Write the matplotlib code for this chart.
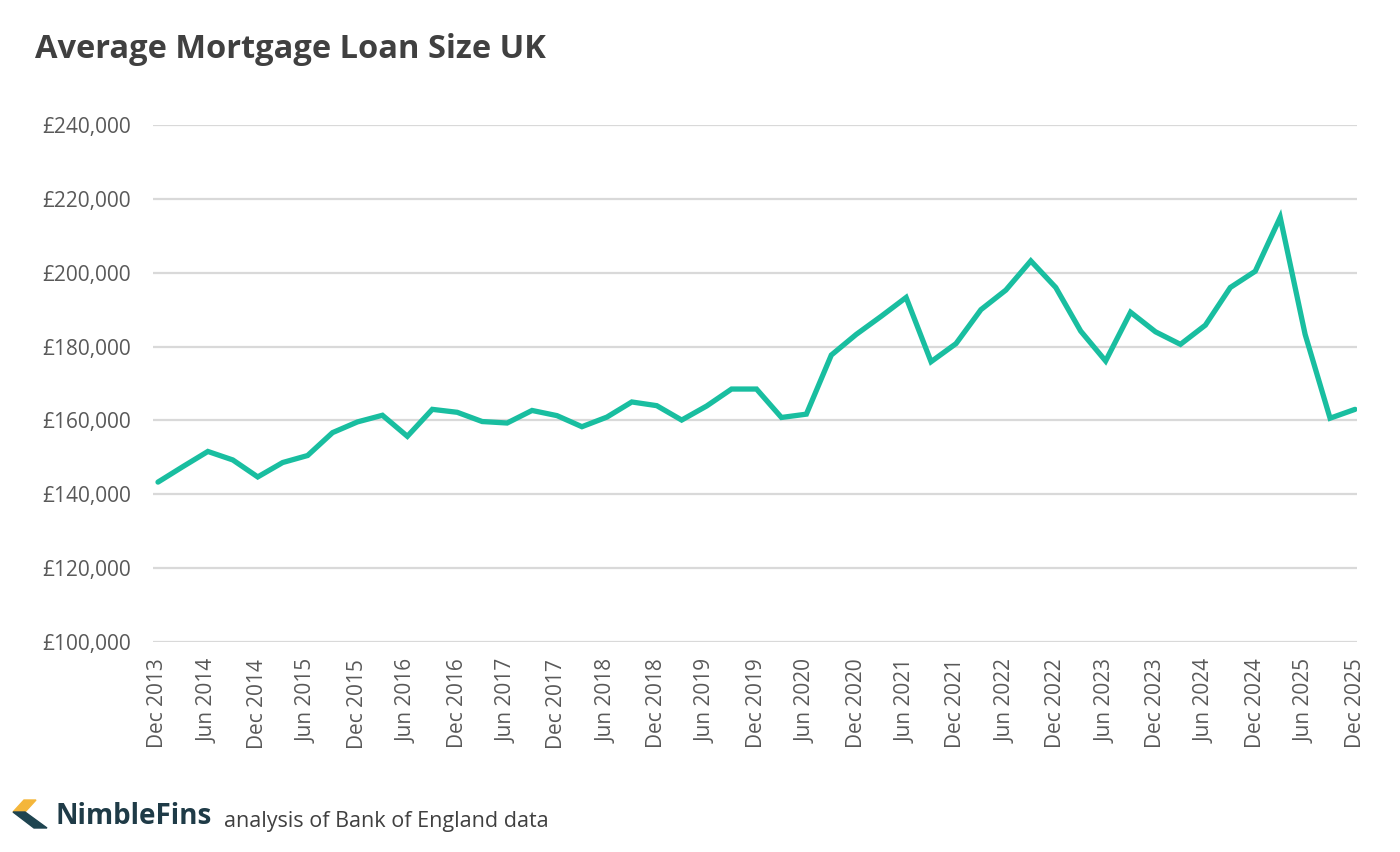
import matplotlib
matplotlib.use("Agg")
import matplotlib.pyplot as plt
from matplotlib.patches import Polygon
from matplotlib.ticker import FuncFormatter

# Average mortgage loan size, quarterly, Dec 2013 .. Dec 2025 (GBP)
quarters = []
for yr in range(2013, 2026):
    for m in ["Mar", "Jun", "Sep", "Dec"]:
        quarters.append(f"{m} {yr}")
quarters = quarters[3:]  # start at Dec 2013

loan_size = [143300, 147500, 151600, 149300, 144700, 148600, 150500, 156700,
             159600, 161400, 155700, 163000, 162200, 159700, 159300, 162700,
             161300, 158300, 160900, 165000, 164000, 160100, 163900, 168500,
             168500, 160800, 161700, 177700, 183300, 188200, 193300, 175900,
             180800, 190000, 195300, 203200, 196000, 184200, 176100, 189300,
             184000, 180600, 185800, 196000, 200400, 215000, 183300, 160600,
             163000]

y_ticks = [100000, 120000, 140000, 160000, 180000, 200000, 220000, 240000]

line_color = "#19BEA0"
grid_color = "#D9D9D9"
text_color = "#595959"

plt.rcParams['font.family'] = ['Open Sans', 'DejaVu Sans']

fig = plt.figure(figsize=(14, 8.52), dpi=100)
ax = fig.add_axes([153 / 1400, 1 - 642 / 852, (1357 - 153) / 1400, (642 - 125) / 852])

x = list(range(len(quarters)))
ax.plot(x, loan_size, color=line_color, linewidth=3.8, solid_joinstyle='miter',
        solid_capstyle='round', zorder=3)

ax.set_ylim(100000, 240000)
ax.set_xlim(-0.2, len(quarters) - 1 + 0.08)
ax.set_yticks(y_ticks)
ax.yaxis.set_major_formatter(FuncFormatter(lambda v, p: f"£{v:,.0f}"))
ax.set_xticks(x[::2])
ax.set_xticklabels(quarters[::2], rotation=90)

ax.grid(axis='y', color=grid_color, linewidth=1.6)
ax.set_axisbelow(True)
for s in ax.spines.values():
    s.set_visible(False)
ax.tick_params(axis='both', length=0, colors=text_color, labelsize=15)
ax.tick_params(axis='y', pad=16)
ax.tick_params(axis='x', pad=12)

fig.text(35 / 1400, 1 - 50 / 852, "Average Mortgage Loan Size UK", fontsize=23.5,
         fontweight='bold', color="#404040", va='center', ha='left')

# footer logo
fig.patches.append(Polygon([(13 / 1400, 1 - 812 / 852), (24 / 1400, 1 - 800 / 852),
                            (36 / 1400, 1 - 800 / 852), (25 / 1400, 1 - 812 / 852)],
                           closed=True, transform=fig.transFigure, color="#F4B63A"))
fig.patches.append(Polygon([(13 / 1400, 1 - 812 / 852), (25 / 1400, 1 - 812 / 852),
                            (47 / 1400, 1 - 828 / 852), (34 / 1400, 1 - 828 / 852)],
                           closed=True, transform=fig.transFigure, color="#1E4450"))
fig.text(55 / 1400, 1 - 817 / 852, "NimbleFins", fontsize=20, fontweight='bold',
         color="#1F3B47", va='center', ha='left')
fig.text(224 / 1400, 1 - 821 / 852, "analysis of Bank of England data", fontsize=15.5,
         color="#404040", va='center', ha='left')

fig.savefig("out.png", dpi=100, facecolor='white')
